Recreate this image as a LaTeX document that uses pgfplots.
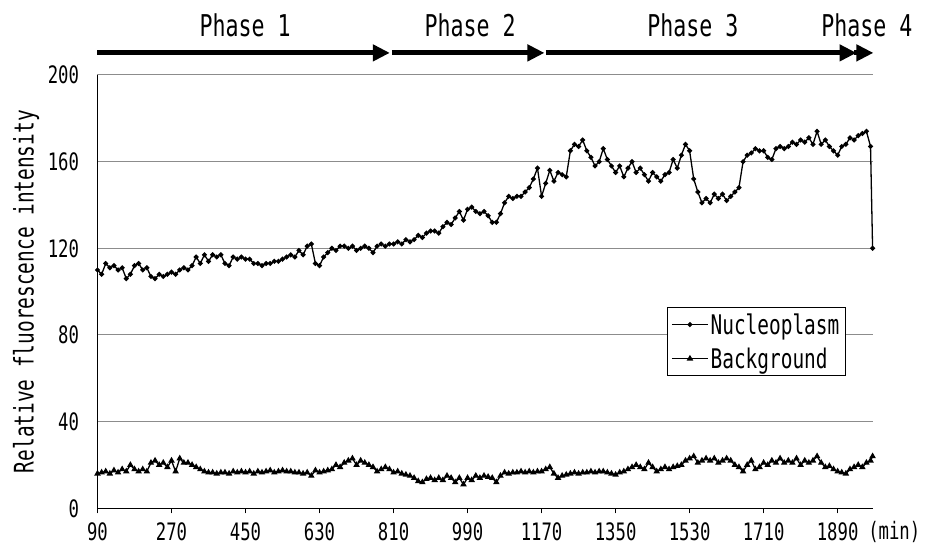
\documentclass[border=0pt]{standalone}
\usepackage{pgfplots}
\pgfplotsset{compat=1.18}
\usepackage{pgfplotstable}
\usepackage{fontspec}
\setmainfont[FakeStretch=0.72]{DejaVu Sans Mono}
\usetikzlibrary{arrows.meta}
\definecolor{gridcol}{RGB}{140,140,140}

\pgfplotstableread{
t v
90 110
100 108
110 113
120 111
130 112
140 110
150 111
160 106
170 108
180 112
190 113
200 110
210 111
220 107
230 106
240 108
250 107
260 108
270 109
280 108
290 110
300 111
310 110
320 112
330 116
340 113
350 117
360 114
370 117
380 116
390 117
400 113
410 112
420 116
430 115
440 116
450 115
460 115
470 113
480 113
490 112
500 113
510 113
520 114
530 114
540 115
550 116
560 117
570 116
580 119
590 117
600 121
610 122
620 113
630 112
640 116
650 118
660 120
670 119
680 121
690 121
700 120
710 121
720 119
730 120
740 121
750 120
760 118
770 121
780 122
790 121
800 122
810 122
820 123
830 122
840 124
850 123
860 124
870 126
880 125
890 127
900 128
910 128
920 127
930 130
940 132
950 131
960 134
970 137
980 133
990 138
1000 139
1010 137
1020 136
1030 137
1040 135
1050 132
1060 132
1070 136
1080 141
1090 144
1100 143
1110 144
1120 144
1130 146
1140 148
1150 152
1160 157
1170 144
1180 150
1190 156
1200 151
1210 155
1220 154
1230 153
1240 165
1250 168
1260 167
1270 170
1280 165
1290 162
1300 158
1310 160
1320 166
1330 161
1340 158
1350 155
1360 158
1370 153
1380 157
1390 160
1400 155
1410 157
1420 154
1430 151
1440 155
1450 153
1460 151
1470 154
1480 155
1490 161
1500 157
1510 163
1520 168
1530 165
1540 152
1550 146
1560 141
1570 143
1580 141
1590 145
1600 143
1610 145
1620 142
1630 144
1640 146
1650 148
1660 160
1670 163
1680 164
1690 166
1700 165
1710 165
1720 162
1730 161
1740 166
1750 167
1760 166
1770 167
1780 169
1790 168
1800 170
1810 169
1820 171
1830 168
1840 174
1850 168
1860 170
1870 167
1880 165
1890 163
1900 167
1910 168
1920 171
1930 170
1940 172
1950 173
1960 174
1970 167
1975 120
}\nucleo

\pgfplotstableread{
t v
90 16
100 16.5
110 17
120 16
130 17.5
140 16.5
150 18
160 17
170 20
180 18
190 17
200 18
210 17
220 21
230 22
240 20
250 21
260 19
270 22
280 17
290 23
300 21
310 21
320 20
330 19
340 18
350 17
360 16.5
370 16.5
380 16
390 16.5
400 16.5
410 16
420 17
430 16.5
440 17
450 16.5
460 17
470 16
480 17
490 16.5
500 17
510 17.5
520 16.5
530 17
540 17.5
550 17
560 17
570 16.5
580 16.5
590 16
600 16.5
610 15
620 17.5
630 16.5
640 17
650 17.5
660 18
670 20
680 19
690 21
700 22
710 23
720 20
730 22
740 21
750 20
760 19
770 17
780 18
790 19
800 18
810 16.5
820 17
830 16
840 15.5
850 15
860 14
870 12.5
880 12
890 13.5
900 14
910 13
920 14
930 13
940 15
950 14
960 12
970 14
980 11
990 14
1000 13
1010 15
1020 14
1030 15
1040 14.5
1050 14
1060 12
1070 15
1080 16.5
1090 16
1100 16.5
1110 16.5
1120 17
1130 16.5
1140 17
1150 16.5
1160 17
1170 17
1180 18
1190 19
1200 16
1210 14
1220 15
1230 15.5
1240 16
1250 16.5
1260 16
1270 16.5
1280 16.5
1290 17
1300 16.5
1310 17
1320 17
1330 16.5
1340 16
1350 15.5
1360 16.5
1370 17
1380 18
1390 19
1400 20
1410 19
1420 18
1430 21
1440 19
1450 17
1460 18
1470 19
1480 18
1490 19
1500 19.5
1510 20
1520 22
1530 23
1540 24
1550 21
1560 22
1570 23
1580 22
1590 23
1600 21
1610 22
1620 23
1630 22
1640 20
1650 19
1660 17
1670 20
1680 22
1690 18
1700 19
1710 21
1720 20
1730 22
1740 21
1750 23
1760 21
1770 22
1780 21
1790 23
1800 20
1810 22
1820 21
1830 22
1840 24
1850 21
1860 19
1870 19.5
1880 18
1890 17
1900 16.5
1910 16
1920 18
1930 19
1940 20
1950 19
1960 21
1970 22
1975 24
}\backgr

\begin{document}
\begin{tikzpicture}
\useasboundingbox (0,0) rectangle (930pt,545pt);
\begin{axis}[
  at={(97.5pt,36.7pt)}, anchor=south west,
  scale only axis, width=775.5pt, height=433.3pt,
  xmin=90, xmax=1976, ymin=0, ymax=200,
  axis lines*=left,
  axis line style={black, line width=1pt},
  xtick={90,270,...,1890},
  ytick={0,40,...,200},
  ymajorgrids,
  major grid style={gridcol, line width=1pt},
  x tick style={black, line width=1pt},
  xtick pos=bottom,
  tick align=outside,
  major tick length=5pt,
  y tick style={draw=none},
  /pgf/number format/assume math mode=true,
  /pgf/number format/set thousands separator={},
  tick label style={font=\fontsize{24}{28}\selectfont},
  yticklabel style={xshift=-10pt},
  xticklabel style={yshift=-6pt},
  ylabel={Relative fluorescence intensity},
  ylabel style={at={(axis description cs:-0.092,0.5)}, anchor=center, font=\fontsize{27}{31}\selectfont},
  clip=false,
  legend style={at={(0.965,0.305)}, anchor=south east, draw=black, line width=1pt,
    font=\fontsize{27}{31}\selectfont, inner sep=4pt, row sep=8pt},
  legend cell align=left,
  legend image code/.code={\draw[mark repeat=2,mark phase=2,#1] plot coordinates {(0pt,0pt) (18pt,0pt) (36pt,0pt)};},
]
\addplot[black, line width=1.3pt, mark=*, mark size=1.8pt] table[x=t,y=v] {\nucleo};
\addlegendentry{Nucleoplasm}
\addplot[black, line width=1.3pt, mark=triangle*, mark size=2.5pt] table[x=t,y=v] {\backgr};
\addlegendentry{Background}

\draw[line width=5pt, -{Triangle[length=17pt,width=16pt]}] (axis cs:90,210.2) -- (axis cs:801,210.2);
\draw[line width=5pt, -{Triangle[length=17pt,width=16pt]}] (axis cs:806,210.2) -- (axis cs:1177,210.2);
\draw[line width=5pt, -{Triangle[length=17pt,width=16pt]}] (axis cs:1180,210.2) -- (axis cs:1936,210.2);
\draw[line width=5pt, -{Triangle[length=17pt,width=16pt]}] (axis cs:1930,210.2) -- (axis cs:1977,210.2);

\node[font=\fontsize{30}{34}\selectfont] at (axis cs:449,223.1) {Phase 1};
\node[font=\fontsize{30}{34}\selectfont] at (axis cs:996,223.1) {Phase 2};
\node[font=\fontsize{30}{34}\selectfont] at (axis cs:1538,223.1) {Phase 3};
\node[font=\fontsize{30}{34}\selectfont] at (axis cs:1961,223.1) {Phase 4};
\node[font=\fontsize{24}{28}\selectfont, anchor=west, inner sep=0pt] at (axis cs:1964,-10.8) {(min)};
\end{axis}
\end{tikzpicture}
\end{document}
